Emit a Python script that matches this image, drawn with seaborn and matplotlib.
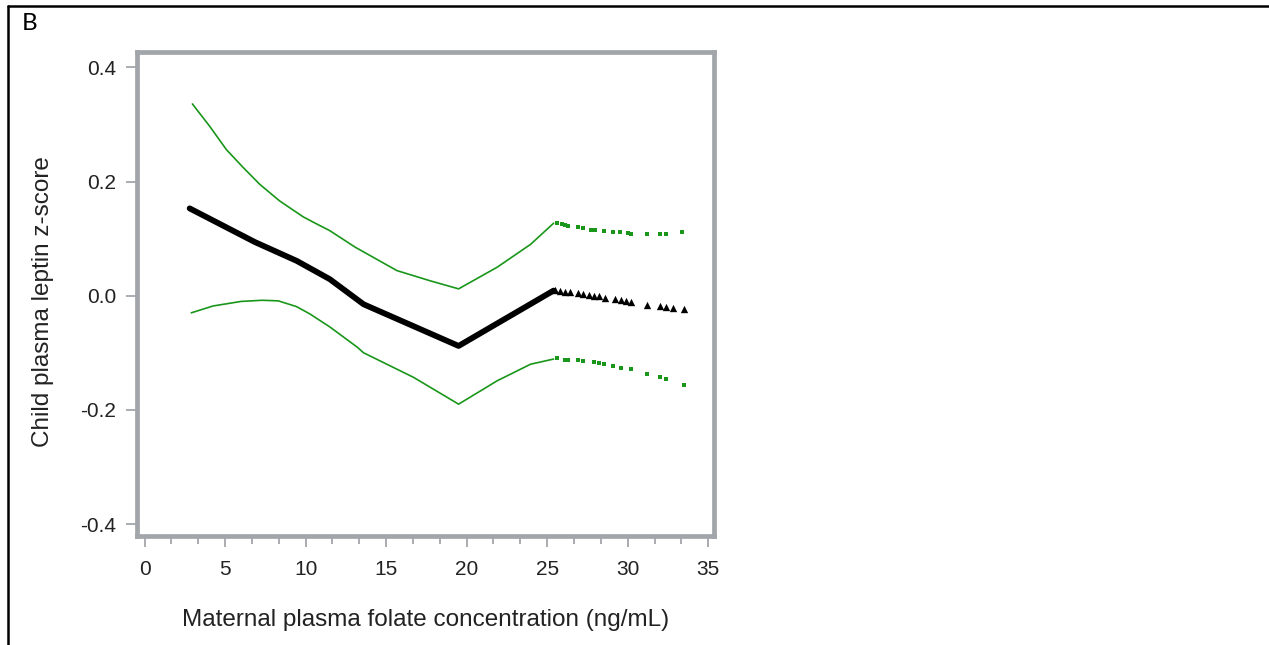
import matplotlib
matplotlib.use("Agg")
import matplotlib.pyplot as plt
from matplotlib.lines import Line2D
from matplotlib.ticker import MultipleLocator
import seaborn as sns

# ---- data ----
est_x = [2.8, 6.85, 9.45, 11.5, 13.6, 19.5, 25.4]
est_y = [0.153, 0.094, 0.061, 0.029, -0.015, -0.088, 0.009]

est_sparse_x = [25.5, 25.8, 26.1, 26.4, 26.9, 27.2, 27.6, 27.9, 28.2, 28.6,
                29.2, 29.6, 29.9, 30.2, 31.2, 32.0, 32.4, 32.8, 33.5]
est_sparse_y = [0.010, 0.008, 0.007, 0.006, 0.004, 0.003, 0.001, 0.000, -0.001, -0.004,
                -0.005, -0.008, -0.009, -0.011, -0.016, -0.018, -0.019, -0.021, -0.023]

upper_x = [2.97, 4.04, 5.08, 6.11, 7.16, 8.39, 9.86, 10.67, 11.5, 13.08, 15.67,
           17.75, 19.5, 21.9, 23.97, 25.4]
upper_y = [0.336, 0.297, 0.256, 0.225, 0.195, 0.166, 0.138, 0.126, 0.114, 0.085,
           0.044, 0.026, 0.012, 0.050, 0.090, 0.127]

upper_sparse_x = [25.6, 25.9, 26.1, 26.3, 26.9, 27.2, 27.7, 28.0, 28.5, 29.1,
                  29.5, 30.0, 30.2, 31.2, 32.0, 32.4, 33.4]
upper_sparse_y = [0.128, 0.126, 0.124, 0.123, 0.120, 0.119, 0.116, 0.116, 0.113, 0.112,
                  0.112, 0.110, 0.109, 0.109, 0.109, 0.109, 0.112]

lower_x = [2.9, 4.25, 6.0, 7.3, 8.3, 9.43, 10.27, 11.52, 13.2, 13.6, 16.7, 19.5,
           21.9, 23.97, 25.4]
lower_y = [-0.030, -0.018, -0.010, -0.008, -0.009, -0.019, -0.032, -0.055, -0.090,
           -0.100, -0.143, -0.190, -0.149, -0.120, -0.111]

lower_sparse_x = [25.6, 26.1, 26.3, 26.9, 27.2, 27.9, 28.2, 28.5, 29.1, 29.6,
                  30.2, 31.2, 32.0, 32.4, 33.5]
lower_sparse_y = [-0.110, -0.112, -0.112, -0.113, -0.114, -0.117, -0.118, -0.120, -0.124,
                  -0.127, -0.129, -0.137, -0.143, -0.146, -0.156]

x_ticks = [0, 5, 10, 15, 20, 25, 30, 35]
y_ticks = [-0.4, -0.2, 0.0, 0.2, 0.4]
y_tick_labels = ["-0.4", "-0.2", "0.0", "0.2", "0.4"]

x_label = "Maternal plasma folate concentration (ng/mL)"
y_label = "Child plasma leptin z-score"
panel_label = "B"

# ---- styling ----
sns.set_style("white")
plt.rcParams["font.family"] = ["Liberation Sans", "DejaVu Sans"]

GREEN = "#1a961a"
FRAME = "#a2a6aa"
TEXT = "#222222"

W, H = 1269, 645
fig = plt.figure(figsize=(W / 100, H / 100), dpi=100)
ax = fig.add_axes([137 / W, 1 - 536 / H, 577 / W, 484 / H])

sns.lineplot(x=upper_x, y=upper_y, ax=ax, color=GREEN, linewidth=1.2,
             sort=False, estimator=None)
sns.lineplot(x=lower_x, y=lower_y, ax=ax, color=GREEN, linewidth=1.2,
             sort=False, estimator=None)
sns.lineplot(x=est_x, y=est_y, ax=ax, color="black", linewidth=4.2,
             sort=False, estimator=None)

sns.scatterplot(x=upper_sparse_x, y=upper_sparse_y, ax=ax, color=GREEN, s=5,
                marker="s", linewidth=0)
sns.scatterplot(x=lower_sparse_x, y=lower_sparse_y, ax=ax, color=GREEN, s=5,
                marker="s", linewidth=0)
sns.scatterplot(x=est_sparse_x, y=est_sparse_y, ax=ax, color="black", s=28,
                marker="^", linewidth=0)

ax.set_xlim(-0.47, 35.36)
ax.set_ylim(-0.421, 0.427)
ax.set_xticks(x_ticks)
ax.set_xticklabels([str(t) for t in x_ticks])
ax.xaxis.set_minor_locator(MultipleLocator(5 / 3))
ax.set_yticks(y_ticks)
ax.set_yticklabels(y_tick_labels)

for sp in ax.spines.values():
    sp.set_color(FRAME)
    sp.set_linewidth(3.4)

ax.tick_params(axis="both", which="major", direction="out", length=8, width=1.3,
               color=FRAME, labelcolor=TEXT, labelsize=15, bottom=True, left=True)
ax.tick_params(axis="x", which="major", pad=9)
ax.tick_params(axis="y", which="major", pad=7)
ax.tick_params(axis="x", which="minor", direction="out", length=6, width=1.3,
               color=FRAME, bottom=True)

ax.set_xlabel(x_label, fontsize=17.5, color=TEXT, va="center")
ax.set_ylabel(y_label, fontsize=17.5, color=TEXT, va="center")
ax.xaxis.set_label_coords(0.5, (536 - 620) / 484)
ax.yaxis.set_label_coords((43 - 137) / 577, (536 - 302) / 484)

# panel border (table cell) and panel letter
fig.add_artist(Line2D([7.5 / W, 1], [1 - 5.5 / H, 1 - 5.5 / H], color="black",
                      linewidth=1.8, transform=fig.transFigure))
fig.add_artist(Line2D([7.5 / W, 7.5 / W], [0, 1 - 5.5 / H], color="black",
                      linewidth=1.8, transform=fig.transFigure))
fig.text(22 / W, 1 - 24 / H, panel_label, fontsize=17.5, va="center", ha="left",
         family=["Lato", "DejaVu Sans"], color="black")

fig.savefig("out.png", dpi=100, facecolor="white")
